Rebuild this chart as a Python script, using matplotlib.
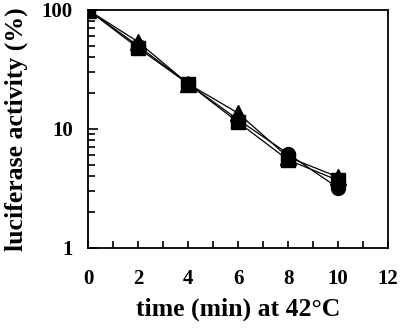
import matplotlib
matplotlib.use("Agg")
import matplotlib.pyplot as plt
from matplotlib.ticker import FixedLocator, LogLocator, NullFormatter

time = [0, 2, 4, 6, 8, 10]
circles = [100, 50, 24, 12, 6.2, 3.2]
triangles = [100, 54, 24, 13.6, 5.8, 3.95]
squares = [100, 48, 24, 11.4, 5.5, 3.7]
xticks = [0, 2, 4, 6, 8, 10, 12]

plt.rcParams['font.family'] = ['Liberation Serif', 'DejaVu Serif']
plt.rcParams['font.weight'] = 'bold'

fig = plt.figure(figsize=(4, 3.3), dpi=100)
ax = fig.add_axes([0.22, 0.2485, 0.75, 0.7215])

ax.plot(time, circles, color='black', lw=0.9, marker='o', ms=10, mfc='black', mec='black')
ax.plot(time, triangles, color='black', lw=0.9, marker='^', ms=11.5, mfc='black', mec='black')
ax.plot(time, squares, color='black', lw=0.9, marker='s', ms=10, mfc='black', mec='black')

ax.set_yscale('log')
ax.set_xlim(0, 12)
ax.set_ylim(1, 100)
ax.xaxis.set_major_locator(FixedLocator(xticks))
ax.xaxis.set_minor_locator(FixedLocator(range(0, 13)))
ax.set_xticklabels([str(v) for v in xticks], fontsize=15, fontweight='bold')
ax.set_yticks([1, 10, 100])
ax.set_yticklabels(['1', '10', '100'], fontsize=15, fontweight='bold')
ax.yaxis.set_minor_locator(LogLocator(base=10, subs=range(2, 10)))
ax.yaxis.set_minor_formatter(NullFormatter())

ax.tick_params(axis='both', which='both', direction='in', top=False, right=False, colors='black', width=1.2)
ax.tick_params(axis='x', which='major', length=5, pad=15)
ax.tick_params(axis='x', which='minor', length=5)
ax.tick_params(axis='y', which='major', length=7, pad=11)
ax.tick_params(axis='y', which='minor', length=5)
for s in ax.spines.values():
    s.set_linewidth(1.3)

ax.set_xlabel('time (min) at 42°C', fontsize=18.5, fontweight='bold', labelpad=6)
ax.set_ylabel('luciferase activity (%)', fontsize=18.5, fontweight='bold', labelpad=10)

fig.savefig('out.png', dpi=100)
